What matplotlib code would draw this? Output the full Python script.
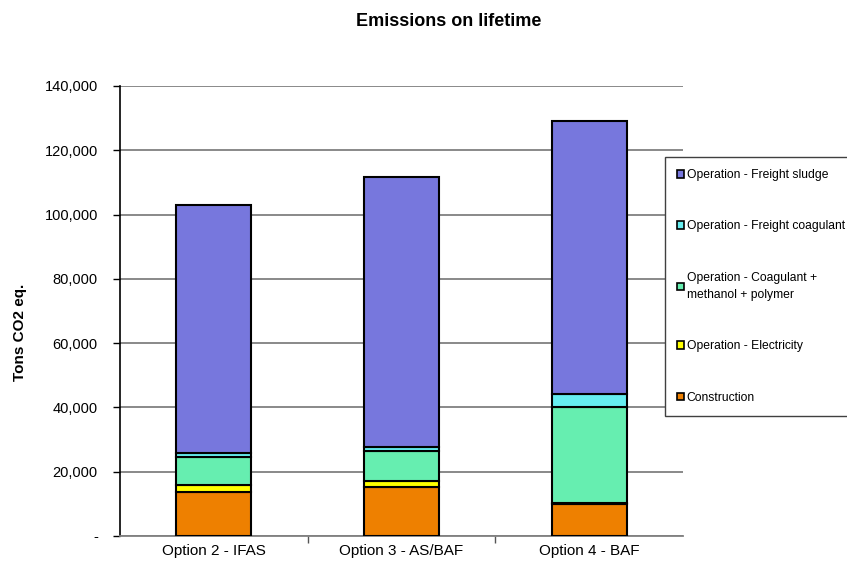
import numpy as np
import matplotlib.pyplot as plt
from matplotlib.ticker import FuncFormatter, FixedLocator

plt.rcParams['font.family'] = ['Liberation Sans', 'DejaVu Sans']

options = ["Option 2 - IFAS", "Option 3 - AS/BAF", "Option 4 - BAF"]

# tons CO2 eq. per emission source, bottom to top
construction = [13700, 15100, 10000]
electricity = [2300, 2000, 200]
coagulant_methanol_polymer = [8500, 9200, 29800]
freight_coagulant = [1400, 1300, 4200]
freight_sludge = [77000, 84200, 85000]

series = [
    ("Construction", construction, "#EE8000"),
    ("Operation - Electricity", electricity, "#FFFF00"),
    ("Operation - Coagulant +\nmethanol + polymer", coagulant_methanol_polymer, "#66EEB0"),
    ("Operation - Freight coagulant", freight_coagulant, "#66EEF0"),
    ("Operation - Freight sludge", freight_sludge, "#7777DD"),
]

fig = plt.figure(figsize=(8.47, 5.69), dpi=100)
ax = fig.add_axes([0.1417, 0.058, 0.6647, 0.791])

x = np.arange(len(options))
bottom = np.zeros(len(options))
handles = []
for label, vals, color in series:
    b = ax.bar(x, vals, width=0.4, bottom=bottom, color=color,
               edgecolor="black", linewidth=1.5, label=label, zorder=3)
    handles.append(b)
    bottom += np.array(vals)

ax.set_xlim(-0.5, 2.5)
ax.set_ylim(0, 140000)
ax.set_yticks(np.arange(0, 140001, 20000))
ax.yaxis.set_major_formatter(FuncFormatter(lambda v, p: "-" if v == 0 else f"{int(v):,}"))
ax.yaxis.grid(True, color="#808080", linewidth=1.3, zorder=0)
ax.tick_params(axis="y", direction="out", length=5, width=1, labelsize=10.5, pad=11)

ax.set_xticks(x)
ax.set_xticklabels(options, fontsize=11)
ax.tick_params(axis="x", which="major", length=0, pad=6)
ax.xaxis.set_minor_locator(FixedLocator([0.5, 1.5]))
ax.tick_params(axis="x", which="minor", direction="out", length=5, width=1, color="#555555")

for s in ["top", "right"]:
    ax.spines[s].set_visible(False)
ax.spines["left"].set_linewidth(1.2)
ax.spines["bottom"].set_color("#808080")
ax.spines["bottom"].set_linewidth(1.3)

fig.text(20 / 847, 1 - 332 / 569, "Tons CO2 eq.", rotation=90, ha="center", va="center",
         fontsize=11, fontweight="bold")
fig.text(0.53, 0.962, "Emissions on lifetime", ha="center", va="center",
         fontsize=13, fontweight="bold")

# legend box runs off the right edge of the figure
leg = fig.legend(handles[::-1], [s[0] for s in series][::-1],
                 loc="upper left", bbox_to_anchor=(0.785, 0.724),
                 bbox_transform=fig.transFigure, fontsize=8.7,
                 handlelength=0.6, handleheight=0.6, handletextpad=0.2,
                 labelspacing=3.25, borderpad=1.0, borderaxespad=0,
                 fancybox=False, framealpha=1, edgecolor="#404040")
leg.get_frame().set_linewidth(1.0)
for t in leg.get_texts():
    t.set_linespacing(1.6)
for h in leg.legend_handles:
    h.set_linewidth(1.2)

fig.savefig("out.png", dpi=100)
